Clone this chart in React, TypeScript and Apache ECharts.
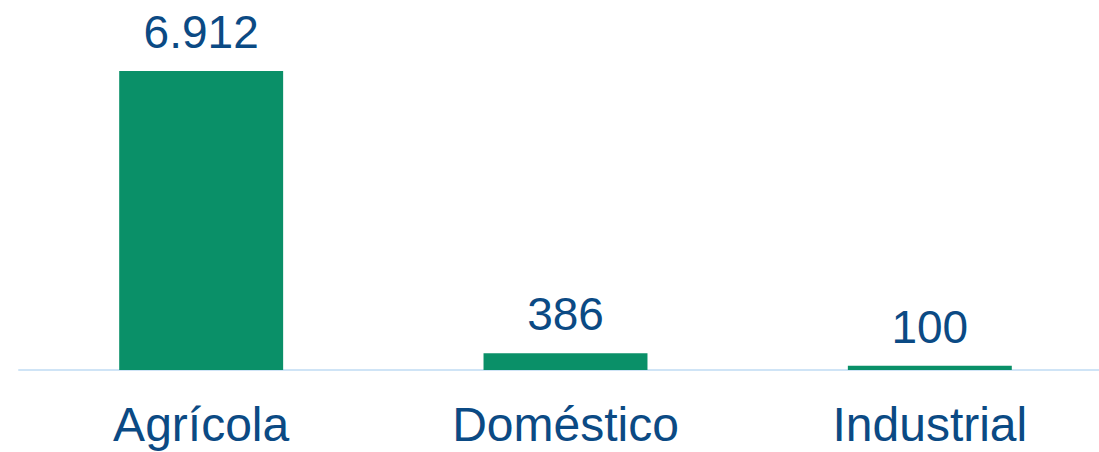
import React, { useEffect, useRef } from "react";
import * as echarts from "echarts";

const categories = ["Agrícola", "Doméstico", "Industrial"];
const values = [6912, 386, 100];
const valueLabels = ["6.912", "386", "100"];

export default function App() {
  const ref = useRef<HTMLDivElement>(null);
  useEffect(() => {
    document.body.style.margin = "0";
    const chart = echarts.init(ref.current!, null, { renderer: "svg" });
    chart.setOption({
      animation: false,
      grid: {
        left: 19,
        width: 1093,
        top: 24,
        height: 346,
        containLabel: false,
        outerBoundsMode: "none",
      },
      xAxis: {
        type: "category",
        data: categories,
        axisLine: { show: true, lineStyle: { color: "#cfe4f6", width: 2 } },
        axisTick: { show: false },
        axisLabel: {
          color: "#0b4a84",
          fontSize: 48,
          fontFamily: "Liberation Sans, Arial, sans-serif",
          margin: 30,
        },
      },
      yAxis: {
        type: "value",
        min: 0,
        max: 8000,
        show: false,
        splitLine: { show: false },
      },
      series: [
        {
          type: "bar",
          data: values,
          barWidth: "45%",
          itemStyle: { color: "#0a9068" },
          label: {
            show: true,
            position: "top",
            distance: 16,
            color: "#0b4a84",
            fontSize: 46,
            fontFamily: "Liberation Sans, Arial, sans-serif",
            formatter: (p: any) => valueLabels[p.dataIndex],
          },
        },
      ],
    });
    return () => chart.dispose();
  }, []);
  return <div ref={ref} style={{ width: 1099, height: 452 }} />;
}
